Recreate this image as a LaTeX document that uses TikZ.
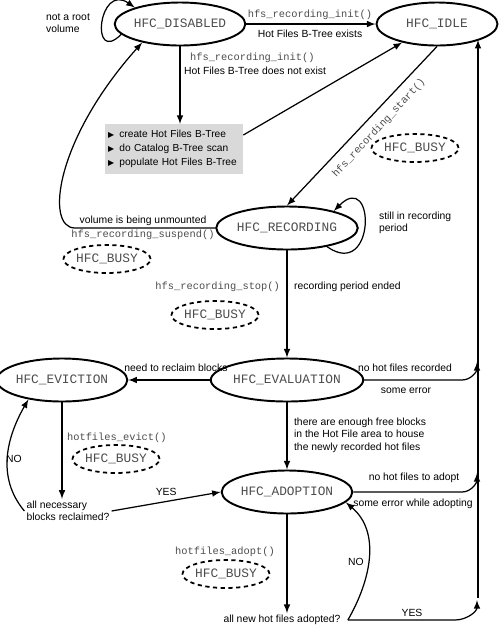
\documentclass[tikz,border=0pt]{standalone}
\usepackage{fontspec}
\setmainfont{Liberation Sans}
\setmonofont{Liberation Mono}
\newfontfamily\symfont{DejaVu Sans}
\usetikzlibrary{arrows}
\usetikzlibrary{shapes.geometric}
\newcommand{\statefont}{\ttfamily\fontsize{7.3}{8.5}\selectfont}
\newcommand{\codefont}{\ttfamily\fontsize{5.9}{7}\selectfont}
\newcommand{\lblfont}{\fontsize{5.9}{7.1}\selectfont}
\newcommand{\tri}{{\symfont\fontsize{4.5}{5}\selectfont ▶}\hspace{3pt}}

\begin{document}
\begin{tikzpicture}[x=0.02cm, y=-0.02cm,
  state/.style={ellipse, draw, line width=1.1pt, minimum width=2.42cm, minimum height=0.86cm, inner sep=0pt, font=\statefont, text=black!70},
  busy/.style={ellipse, draw, line width=1pt, dash pattern=on 2.4pt off 2pt, minimum width=1.62cm, minimum height=0.56cm, inner sep=0pt, font=\statefont, text=black!70},
  code/.style={font=\codefont, text=black!70, inner sep=1pt},
  lbl/.style={font=\lblfont, inner sep=1pt, align=left},
  arr/.style={-latex, line width=0.7pt}]
\useasboundingbox (0,0) rectangle (500,627);

% states
\node[state] (dis) at (180,24) {HFC\_DISABLED};
\node[state] (idle) at (437,24) {HFC\_IDLE};
\node[state] (rec) at (287,228) {HFC\_RECORDING};
\node[state] (eval) at (287,380) {HFC\_EVALUATION};
\node[state] (evic) at (62,380) {HFC\_EVICTION};
\node[state] (adop) at (287,492) {HFC\_ADOPTION};

\node[fill=gray!30, minimum width=2.76cm, minimum height=0.96cm, inner xsep=0.06cm, text width=2.64cm, align=left,
  font=\fontsize{5.8}{8}\selectfont] (init) at (174,149)
  {\tri create Hot Files B-Tree\\\tri do Catalog B-Tree scan\\\tri populate Hot Files B-Tree};

\node[busy] (busy1) at (415,148) {HFC\_BUSY};
\node[busy] (busy2) at (107,259) {HFC\_BUSY};
\node[busy] (busy3) at (215,315) {HFC\_BUSY};
\node[busy] (busy4) at (116,459) {HFC\_BUSY};
\node[busy] (busy5) at (226,574) {HFC\_BUSY};

\node[lbl] (q1) at (68,511) {all necessary\\blocks reclaimed?};
\node[lbl, inner xsep=4pt] (q2) at (282,620) {all new hot files adopted?};

% HFC_DISABLED
\draw[arr] (dis.190) to[out=225, in=145, looseness=3.8] (dis.160);
\node[lbl, anchor=west] (root) at (44,23) {not a root\\volume};
\draw[arr] (dis) -- (idle);
\node[code] (ini1) at (310,15) {hfs\_recording\_init()};
\node[lbl] (ini1b) at (310,34) {Hot Files B-Tree exists};
\draw[arr] (dis) -- (dis |- init.north);
\node[code, anchor=west] (ini2) at (188,58) {hfs\_recording\_init()};
\node[lbl, anchor=west] (ini2b) at (182,71) {Hot Files B-Tree does not exist};
\draw[arr] ([yshift=0.28cm]init.east) -- (idle.208);

% HFC_IDLE -> HFC_RECORDING
\draw[arr] (idle.south) -- (rec.north);
\node[code, rotate=47] (start) at (379,128) {hfs\_recording\_start()};

% HFC_RECORDING
\draw[arr] (rec.-25) to[out=-35, in=45, looseness=4.2] (rec.20);
\node[lbl, anchor=west] (still) at (377,223) {still in recording\\period};
\coordinate (um) at (75,228);
\draw[arr] (rec) -- (um) .. controls (45,228) and (55,140) .. (dis.206);
\node[lbl] (unm) at (143,221) {volume is being unmounted};
\node[code] (susp) at (143,235) {hfs\_recording\_suspend()};
\draw[arr] (rec) -- (eval);
\node[code, anchor=east] (stop) at (282,287) {hfs\_recording\_stop()};
\node[lbl, anchor=west] (ended) at (292,287) {recording period ended};

% right rail up to HFC_IDLE
\coordinate (rail) at (478,598);
\draw[arr] (rail) -- (rail |- idle.-20);

% HFC_EVALUATION
\draw[arr] (eval) -- (evic);
\node[lbl] (recl) at (176,368) {need to reclaim blocks};
\coordinate (ev1) at (462,380);
\coordinate (ev2) at (477,362);
\draw[arr] (eval) -- (ev1) to[out=0, in=-90] (ev2);
\node[lbl] (nohot) at (405,368) {no hot files recorded};
\node[lbl] (err1) at (406,391) {some error};
\draw[arr] (eval) -- (adop);
\node[lbl, anchor=west] (enough) at (292,435) {there are enough free blocks\\in the Hot File area to house\\the newly recorded hot files};

% HFC_EVICTION
\draw[arr] (evic) -- (evic |- q1.north);
\node[code, anchor=west] (evict) at (65,438) {hotfiles\_evict()};
\draw[arr] (q1.east) -- (adop.west) node[lbl, midway, above=2pt] (yes1) {YES};
\draw[arr] (q1.west) to[out=130, in=240] (evic.210);
\node[lbl] (no1) at (14,459) {NO};

% HFC_ADOPTION
\coordinate (ad1) at (462,492);
\coordinate (ad2) at (477,473);
\draw[arr] (adop) -- (ad1) to[out=0, in=-90] (ad2);
\node[lbl] (noadopt) at (414,478) {no hot files to adopt};
\node[lbl] (err2) at (413,504) {some error while adopting};
\draw[arr] (adop) -- (adop |- q2.north);
\node[code] (adopt) at (225,552) {hotfiles\_adopt()};
\coordinate (ye1) at (455,620);
\coordinate (ye2) at (477,600);
\draw[arr] (q2.east) -- (ye1) to[out=0, in=-90] (ye2);
\node[lbl] (yes2) at (412,613) {YES};
\draw[arr] (q2.east) to[out=60, in=-40] (adop.-10);
\node[lbl] (no2) at (356,562) {NO};
\end{tikzpicture}
\end{document}
